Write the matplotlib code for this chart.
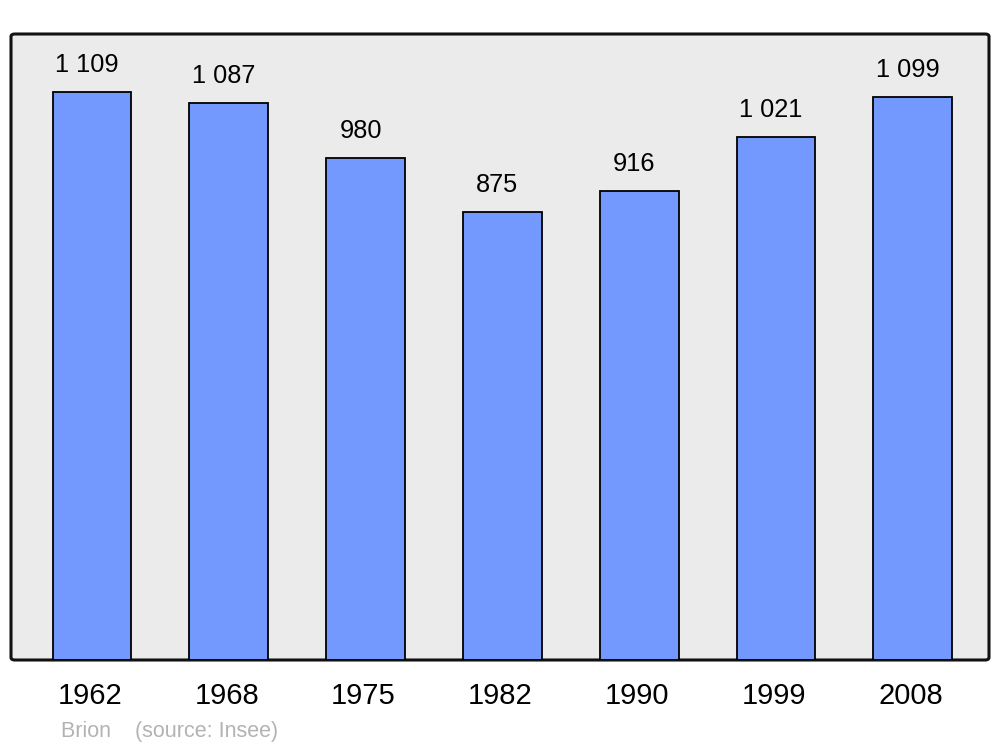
import matplotlib
matplotlib.use("Agg")
import matplotlib.pyplot as plt
import matplotlib.transforms as mtrans
from matplotlib.patches import FancyBboxPatch

years = ["1962", "1968", "1975", "1982", "1990", "1999", "2008"]
population = [1109, 1087, 980, 875, 916, 1021, 1099]
value_labels = ["1 109", "1 087", "980", "875", "916", "1 021", "1 099"]

plt.rcParams['font.family'] = ['Liberation Sans', 'DejaVu Sans']

fig = plt.figure(figsize=(10, 7.47), dpi=100)
ax = fig.add_axes([0.011, 1 - 660 / 747, 0.978, (660 - 34) / 747])
ax.set_xlim(-0.592, 6.557)
ax.set_ylim(0, 1222)
ax.set_facecolor('none')
for s in ax.spines.values():
    s.set_visible(False)

# rounded frame
frame = FancyBboxPatch((0, 0), 1, 1, boxstyle="round,pad=0,rounding_size=0.004",
                       transform=ax.transAxes, facecolor='#ebebeb', edgecolor='#111111',
                       linewidth=2.2, zorder=0, clip_on=False)
ax.add_patch(frame)

x = list(range(len(years)))
bars = ax.bar(x, population, width=0.577, color='#7399ff', edgecolor='#000000',
              linewidth=1.3, zorder=2)

for xi, v, lab in zip(x, population, value_labels):
    ax.annotate(lab, (xi, v), xytext=(-5, 27), textcoords='offset pixels',
                ha='center', va='center', fontsize=18.3, color='#000000')

ax.set_xticks(x)
ax.set_xticklabels(years, fontsize=21)
ax.tick_params(axis='x', length=0, pad=16)
ax.set_yticks([])
shift = mtrans.ScaledTranslation(-2 / 100, 0, fig.dpi_scale_trans)
for t in ax.get_xticklabels():
    t.set_transform(t.get_transform() + shift)

fig.text(61 / 1000, 1 - 731 / 747, "Brion    (source: Insee)", fontsize=15.5,
         color='#b3b3b3', ha='left', va='center')

fig.savefig("out.png", dpi=100)
